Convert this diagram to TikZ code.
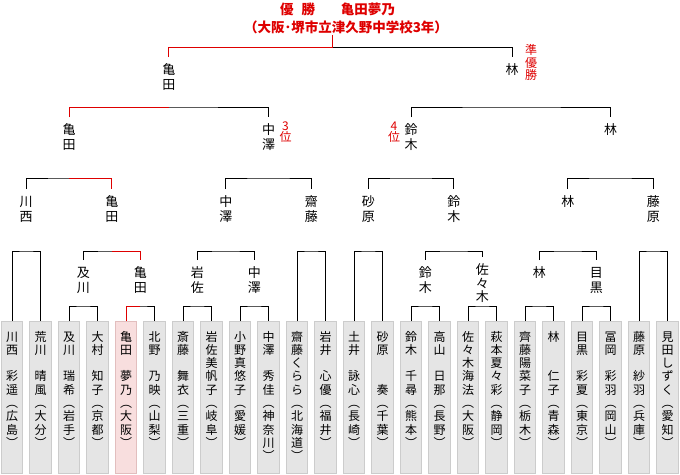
\documentclass[tikz,border=0pt]{standalone}
\usepackage{fontspec}
\usepackage{tikz}
\newfontfamily\jpfont{Noto Sans CJK JP}
\definecolor{winred}{RGB}{222,0,0}
\definecolor{boxgray}{RGB}{229,229,229}
\definecolor{boxline}{RGB}{204,204,204}
\definecolor{champfill}{RGB}{248,222,222}
\definecolor{champline}{RGB}{226,190,190}
\makeatletter
\newcommand\tatelines[2]{\baselineskip=#1\relax\lineskiplimit=-\maxdimen
  \@tfor\tch:=#2\do{\hbox to 1em{\vrule height .88em depth .12em width 0pt\hss\tch\hss}}}
\makeatother
\newcommand\tate[2][15pt]{\vbox{\tatelines{#1}{#2}}}
\newcommand\tatebox[1]{\vbox to 152pt{\vskip 9pt\tatelines{13.3pt}{#1}\vfill}}

\begin{document}
\begin{tikzpicture}[x=1pt,y=-1pt,
  entry/.style={draw=boxline,fill=boxgray,line width=1pt,anchor=north,inner sep=0pt,minimum width=21.5pt,font=\jpfont\fontsize{12}{13}\selectfont},
  champbox/.style={entry,draw=champline,fill=champfill},
  winner/.style={anchor=north,inner xsep=0pt,inner ysep=6pt,font=\jpfont\fontsize{13}{15}\selectfont},
  rank/.style={anchor=north,inner sep=0pt,text=winred,font=\jpfont\fontsize{12}{13}\selectfont},
  bline/.style={line width=1pt},
  rline/.style={line width=1pt,draw=winred}]
\useasboundingbox (0,0) rectangle (680,474);
% title
\node[anchor=north,inner sep=1pt,text=winred,font=\jpfont\bfseries\fontsize{13.5}{16}\selectfont] (champ) at (337.5,2) {優\hspace{.6em}勝\hspace{1.9em}亀田夢乃};
\node[anchor=north,inner sep=1pt,text=winred,font=\jpfont\bfseries\fontsize{13.5}{16}\selectfont] (school) at (346,19.5) {（大阪･堺市立津久野中学校3年）};
% players
\node[entry] (b0) at (12,321) {\tatebox{川西　彩遥︵広島︶}};
\node[entry] (b1) at (40.5,321) {\tatebox{荒川　晴風︵大分︶}};
\node[entry] (b2) at (69,321) {\tatebox{及川　瑞希︵岩手︶}};
\node[entry] (b3) at (97.5,321) {\tatebox{大村　知子︵京都︶}};
\node[champbox] (b4) at (126,321) {\tatebox{亀田　夢乃︵大阪︶}};
\node[entry] (b5) at (154.5,321) {\tatebox{北野　乃映︵山梨︶}};
\node[entry] (b6) at (183,321) {\tatebox{斎藤　舞衣︵三重︶}};
\node[entry] (b7) at (211.5,321) {\tatebox{岩佐美帆子︵岐阜︶}};
\node[entry] (b8) at (240,321) {\tatebox{小野真悠子︵愛媛︶}};
\node[entry] (b9) at (268.5,321) {\tatebox{中澤　秀佳︵神奈川︶}};
\node[entry] (b10) at (297,321) {\tatebox{齋藤くらら︵北海道︶}};
\node[entry] (b11) at (325.5,321) {\tatebox{岩井　心優︵福井︶}};
\node[entry] (b12) at (354,321) {\tatebox{土井　詠心︵長崎︶}};
\node[entry] (b13) at (382.5,321) {\tatebox{砂原　　奏︵千葉︶}};
\node[entry] (b14) at (411,321) {\tatebox{鈴木　千尋︵熊本︶}};
\node[entry] (b15) at (439.5,321) {\tatebox{高山　日那︵長野︶}};
\node[entry] (b16) at (468,321) {\tatebox{佐々木海法︵大阪︶}};
\node[entry] (b17) at (496.5,321) {\tatebox{萩本夏々彩︵静岡︶}};
\node[entry] (b18) at (525,321) {\tatebox{齊藤陽菜子︵栃木︶}};
\node[entry] (b19) at (553.5,321) {\tatebox{林　　仁子︵青森︶}};
\node[entry] (b20) at (582,321) {\tatebox{目黒　彩夏︵東京︶}};
\node[entry] (b21) at (610.5,321) {\tatebox{冨岡　彩羽︵岡山︶}};
\node[entry] (b22) at (639,321) {\tatebox{藤原　紗羽︵兵庫︶}};
\node[entry] (b23) at (667.5,321) {\tatebox{見田しずく︵愛知︶}};
% round winners
\node[winner] (l1a) at (83.25,260) {\tate{及川}};
\node[winner] (l1b) at (140.25,260) {\tate{亀田}};
\node[winner] (l1c) at (197.25,260) {\tate{岩佐}};
\node[winner] (l1d) at (254.25,260) {\tate{中澤}};
\node[winner] (l1e) at (425.25,260) {\tate{鈴木}};
\node[winner] (l1f) at (482.25,257) {\tate[13.5pt]{佐々木}};
\node[winner] (l1g) at (539.25,260) {\tate{林}};
\node[winner] (l1h) at (596.25,260) {\tate{目黒}};
\node[winner] (l2a) at (26.25,189) {\tate{川西}};
\node[winner] (l2b) at (111.75,189) {\tate{亀田}};
\node[winner] (l2c) at (225.75,189) {\tate{中澤}};
\node[winner] (l2d) at (311.25,189) {\tate{齋藤}};
\node[winner] (l2e) at (368.25,189) {\tate{砂原}};
\node[winner] (l2f) at (453.75,189) {\tate{鈴木}};
\node[winner] (l2g) at (567.75,189) {\tate{林}};
\node[winner] (l2h) at (653.25,189) {\tate{藤原}};
\node[winner] (l3a) at (69,117) {\tate{亀田}};
\node[winner] (l3b) at (268.5,117) {\tate{中澤}};
\node[winner] (l3c) at (411,117) {\tate{鈴木}};
\node[winner] (l3d) at (610.5,117) {\tate{林}};
\node[winner] (l4a) at (168.75,57) {\tate{亀田}};
\node[winner] (l4b) at (512,57) {\tate{林}};
% placings
\node[rank] (third) at (285.5,120) {\tate[11pt]{3位}};
\node[rank] (fourth) at (394,120) {\tate[11pt]{4位}};
\node[rank] (second) at (531,44) {\tate[12.5pt]{準優勝}};
% match points
\coordinate (m1a) at (83.25,306); \coordinate (m1b) at (140.25,306);
\coordinate (m1c) at (197.25,306); \coordinate (m1d) at (254.25,306);
\coordinate (m1e) at (425.25,306); \coordinate (m1f) at (482.25,306);
\coordinate (m1g) at (539.25,306); \coordinate (m1h) at (596.25,306);
\coordinate (m2a) at (26.25,251); \coordinate (m2b) at (111.75,251);
\coordinate (m2c) at (225.75,251); \coordinate (m2d) at (311.25,251);
\coordinate (m2e) at (368.25,251); \coordinate (m2f) at (453.75,251);
\coordinate (m2g) at (567.75,251); \coordinate (m2h) at (653.25,251);
\coordinate (m3a) at (69,178); \coordinate (m3b) at (268.5,178);
\coordinate (m3c) at (411,178); \coordinate (m3d) at (610.5,178);
\coordinate (m4a) at (168.75,107); \coordinate (m4b) at (512,107);
\coordinate (fin) at (332,47.5);
% brackets
\draw[bline] (b2.north) |- (m1a) -| (b3.north); \draw[bline] (b4.north) |- (m1b) -| (b5.north);
\draw[bline] (b6.north) |- (m1c) -| (b7.north); \draw[bline] (b8.north) |- (m1d) -| (b9.north);
\draw[bline] (b14.north) |- (m1e) -| (b15.north); \draw[bline] (b16.north) |- (m1f) -| (b17.north);
\draw[bline] (b18.north) |- (m1g) -| (b19.north); \draw[bline] (b20.north) |- (m1h) -| (b21.north);
\draw[bline] (b0.north) |- (m2a) -| (b1.north); \draw[bline] (l1a.north) |- (m2b) -| (l1b.north);
\draw[bline] (l1c.north) |- (m2c) -| (l1d.north); \draw[bline] (b10.north) |- (m2d) -| (b11.north);
\draw[bline] (b12.north) |- (m2e) -| (b13.north); \draw[bline] (l1e.north) |- (m2f) -| (l1f.north);
\draw[bline] (l1g.north) |- (m2g) -| (l1h.north); \draw[bline] (b22.north) |- (m2h) -| (b23.north);
\draw[bline] (l2a.north) |- (m3a) -| (l2b.north); \draw[bline] (l2c.north) |- (m3b) -| (l2d.north);
\draw[bline] (l2e.north) |- (m3c) -| (l2f.north); \draw[bline] (l2g.north) |- (m3d) -| (l2h.north);
\draw[bline] (l3a.north) |- (m4a) -| (l3b.north); \draw[bline] (l3c.north) |- (m4b) -| (l3d.north);
\draw[bline] (l4a.north) |- (fin) -| (l4b.north);
% champion's path
\draw[rline] (m1b) -| (b4.north); \draw[rline] (m2b) -| (l1b.north);
\draw[rline] (m3a) -| (l2b.north); \draw[rline] (m4a) -| (l3a.north);
\draw[rline] (fin) -| (l4a.north); \draw[rline] (school.south -| fin) -- (fin);
\end{tikzpicture}
\end{document}
